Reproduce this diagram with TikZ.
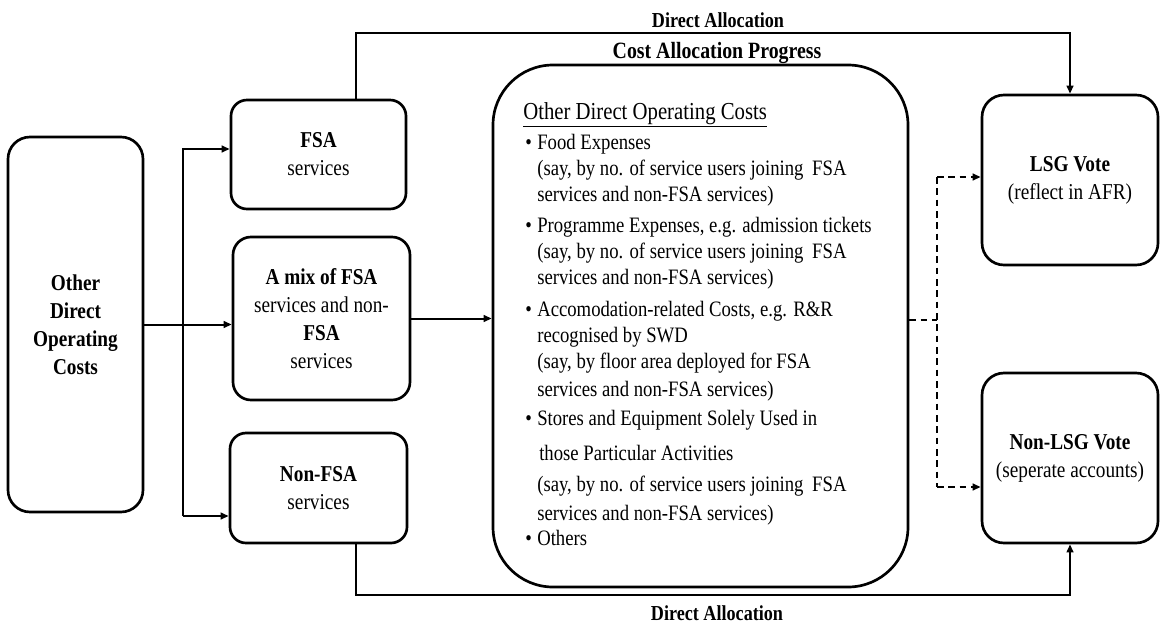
\documentclass[tikz,border=0pt]{standalone}
\usepackage{fontspec}
\setmainfont{Liberation Serif}[FakeStretch=0.85]
\usetikzlibrary{arrows.meta}
\setlength{\parindent}{0pt}
\newcommand\labfont{\fontsize{17}{21}\selectfont}
\newcommand\bodyfont{\fontsize{16.5}{19.5}\selectfont}
\newcommand\bul{\hspace*{1.5pt}\makebox[9pt][l]{\textbullet}}
\newcommand\ind{\hspace*{10.5pt}}
\begin{document}
\begin{tikzpicture}[x=0.75pt,y=-0.75pt,
  box/.style={draw, line width=2pt, align=center, inner sep=0pt, font=\labfont},
  conn/.style={line width=1.5pt, -{Triangle[length=6pt,width=5pt]}},
  plain/.style={line width=1.5pt},
  dconn/.style={line width=1.5pt, dash pattern=on 5pt off 3.5pt, -{Triangle[length=6pt,width=5pt]}},
  dplain/.style={line width=1.5pt, dash pattern=on 5pt off 3.5pt},
  lbl/.style={inner sep=0pt, font=\bfseries}]
\useasboundingbox (0,0) rectangle (1162,632);

% boxes
\node[box, rounded corners=16.5pt, minimum width=101.25pt, minimum height=281.25pt, font=\labfont\bfseries] (L) at (75.5,324.5) {Other\\Direct\\Operating\\Costs};
\node[box, rounded corners=12pt, minimum width=131.25pt, minimum height=81.75pt] (F) at (318.5,154.5) {\textbf{FSA}\\services};
\node[box, rounded corners=13.5pt, minimum width=132.75pt, minimum height=122.25pt] (M) at (321.5,318.5) {\textbf{A mix of FSA}\\services and non-\\\textbf{FSA}\\services};
\node[box, rounded corners=12pt, minimum width=132.75pt, minimum height=82.5pt] (N) at (318.5,488) {\textbf{Non-FSA}\\services};
\node[box, rounded corners=45pt, minimum width=311.25pt, minimum height=391.5pt] (C) at (700.5,326) {};
\node[box, rounded corners=16.5pt, minimum width=132pt, minimum height=127.5pt] (LSG) at (1070,180) {\textbf{LSG Vote}\\(reflect in AFR)};
\node[box, rounded corners=16.5pt, minimum width=132pt, minimum height=127.5pt] (NL) at (1070,458) {\textbf{Non-LSG Vote}\\(seperate accounts)};

% central text
\node[anchor=base west, inner sep=0pt] (txt) at (523,119) {\parbox[t]{300pt}{%
{\fontsize{18.3}{19.5}\selectfont\underline{Other Direct Operating Costs}}\par
\bodyfont
\vspace{3pt}
\bul Food Expenses\par
\ind (say, by no. of service users joining\hspace{3pt} FSA\par
\ind services and non-FSA services)\par
\vspace{4pt}
\bul Programme Expenses, e.g. admission tickets\par
\ind (say, by no. of service users joining\hspace{3pt} FSA\par
\ind services and non-FSA services)\par
\vspace{4.5pt}
\bul Accomodation-related Costs, e.g. R\&R\par
\ind recognised by SWD\par
\ind (say, by floor area deployed for FSA\par
\vspace{1.5pt}
\ind services and non-FSA services)\par
\vspace{2.25pt}
\bul Stores and Equipment Solely Used in\par
\vspace{6.75pt}
\hspace*{12pt}those Particular Activities\par
\vspace{3.75pt}
\ind (say, by no. of service users joining\hspace{3pt} FSA\par
\vspace{2.25pt}
\ind services and non-FSA services)\par
\vspace{-0.75pt}
\bul Others}};

% labels
\node[lbl, font=\fontsize{16}{19}\selectfont\bfseries] (da1) at (718,20) {Direct Allocation};
\node[lbl, font=\fontsize{17.5}{20}\selectfont\bfseries] (cap) at (717,53) {Cost Allocation Progress};
\node[lbl, font=\fontsize{16}{19}\selectfont\bfseries] (da2) at (717,613) {Direct Allocation};

% left connectors
\coordinate (b1) at (183,149);
\coordinate (b2) at (183,516);
\draw[conn] (L.east) -- (L.east -| M.west);
\draw[conn, line join=miter] (b2) -- (b1) -- (b1 -| F.west);
\draw[conn] (b2) -- (b2 -| N.west);
\draw[conn] (M.east) -- (M.east -| C.west);

% direct allocation lines
\coordinate (t1) at (356,33);
\coordinate (t2) at (356,595);
\draw[conn, line join=miter] (t1 |- F.north) -- (t1) -| (LSG.north);
\draw[conn, line join=miter] (t2 |- N.south) -- (t2) -| (NL.south);

% dashed connectors
\coordinate (d) at (937,320);
\coordinate (d1) at (937,177);
\coordinate (d2) at (937,487);
\draw[dplain] (d -| C.east) -- (d);
\draw[dplain] (d1) -- (d2);
\draw[dconn] (d1) -- (d1 -| LSG.west);
\draw[dconn] (d2) -- (d2 -| NL.west);
\end{tikzpicture}
\end{document}
